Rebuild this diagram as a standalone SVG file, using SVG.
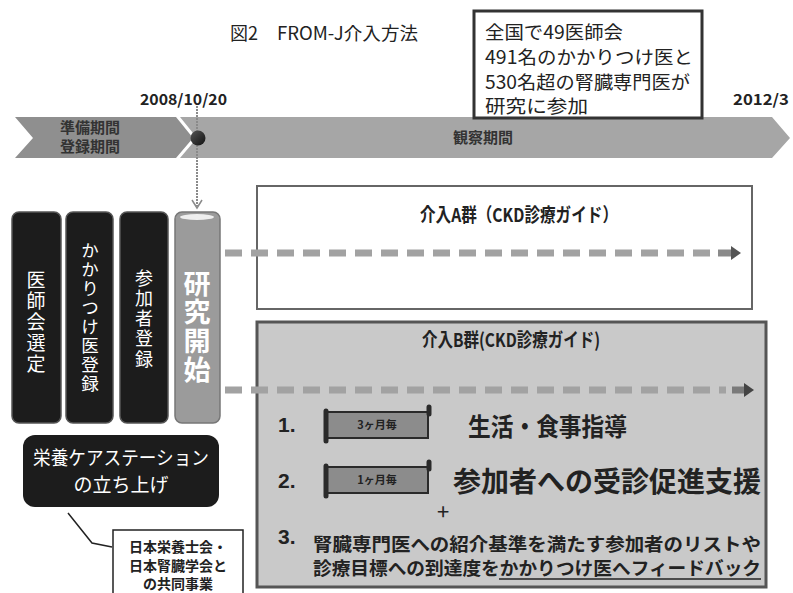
<svg xmlns="http://www.w3.org/2000/svg" width="793" height="593" viewBox="0 0 793 593">
<defs>
<style>
.jp{font-family:"Noto Sans CJK JP","Noto Sans",sans-serif;}
.b{font-weight:bold;}
.dk{fill:#222;}
.wt{fill:#fff;}
.vbox{fill:#1c1c1c;stroke:#555;stroke-width:1.5;}
.vt{font-family:"Noto Sans CJK JP",sans-serif;fill:#fff;writing-mode:vertical-rl;}
.dash{stroke:#a2a2a2;stroke-width:7;stroke-dasharray:17 9;fill:none;}
.tab{fill:#8c8c8c;stroke:#2a2a2a;stroke-width:2;}
.num{font-family:"Liberation Sans",Arial,sans-serif;font-weight:bold;font-size:21px;fill:#222;}
</style>
<linearGradient id="dotg" x1="0" y1="0" x2="1" y2="1">
<stop offset="0" stop-color="#555"/><stop offset="1" stop-color="#111"/>
</linearGradient>
</defs>
<rect width="793" height="593" fill="#fff"/>

<g id="title">
<text class="jp dk" x="230" y="40" font-size="18">図2</text>
<text class="jp dk" x="277" y="40" font-size="18" textLength="141" lengthAdjust="spacingAndGlyphs">FROM-J介入方法</text>
</g>

<g id="timeline">
<polygon points="15,117 176,117 193,138 176,158 15,158 33,138" fill="#8f8f8f"/>
<polygon points="180,117 772,117 790,138 772,158 180,158 197,138" fill="#a6a6a6"/>
<text class="jp b" x="60" y="133" font-size="15" fill="#333">準備期間</text>
<text class="jp b" x="60" y="152" font-size="15" fill="#333">登録期間</text>
<text class="jp b" x="453" y="143" font-size="15" fill="#333">観察期間</text>
<text class="jp b dk" x="140" y="105" font-size="15" textLength="87" lengthAdjust="spacingAndGlyphs">2008/10/20</text>
<text class="jp b dk" x="733" y="105" font-size="15" textLength="56" lengthAdjust="spacingAndGlyphs">2012/3</text>
</g>

<g id="info">
<rect x="474" y="11" width="228" height="107" fill="#fff" stroke="#333" stroke-width="3"/>
<text class="jp dk" x="485" y="39" font-size="18.5" textLength="138" lengthAdjust="spacingAndGlyphs">全国で49医師会</text>
<text class="jp dk" x="485" y="64" font-size="18.5" textLength="208" lengthAdjust="spacingAndGlyphs">491名のかかりつけ医と</text>
<text class="jp dk" x="485" y="88.5" font-size="18.5" textLength="205" lengthAdjust="spacingAndGlyphs">530名超の腎臓専門医が</text>
<text class="jp dk" x="485" y="112.5" font-size="18.5" textLength="103" lengthAdjust="spacingAndGlyphs">研究に参加</text>
</g>

<g id="box-ishikai">
<rect class="vbox" x="12" y="212" width="49" height="211" rx="7"/>
<text class="vt" x="36" y="270" font-size="19" letter-spacing="2">医師会選定</text>
</g>
<g id="box-kakaritsuke">
<rect class="vbox" x="66" y="212" width="47" height="211" rx="7"/>
<text class="vt" x="90" y="242" font-size="17.5" letter-spacing="1.5">かかりつけ医登録</text>
</g>
<g id="box-sankasha">
<rect class="vbox" x="120" y="212" width="48" height="211" rx="7"/>
<text class="vt" x="144" y="269" font-size="18" letter-spacing="2.2">参加者登録</text>
</g>
<g id="box-kaishi">
<rect x="175" y="212" width="45" height="211" rx="7" fill="#9b9b9b" stroke="#777" stroke-width="1.5"/>
<ellipse cx="197" cy="217" rx="17" ry="3" fill="#eee"/>
<text class="vt b" x="197" y="270" font-size="27" letter-spacing="1.7">研究開始</text>
</g>

<g id="box-eiyou">
<rect x="23" y="435" width="196" height="72" rx="12" fill="#1c1c1c"/>
<text class="jp wt" x="121" y="465" font-size="19" text-anchor="middle" textLength="176" lengthAdjust="spacingAndGlyphs">栄養ケアステーション</text>
<text class="jp wt" x="121" y="492" font-size="19" text-anchor="middle">の立ち上げ</text>
</g>

<g id="box-kyoudou">
<rect x="113" y="530" width="130" height="70" fill="#fff" stroke="#222" stroke-width="1.5"/>
<text class="jp b dk" x="178" y="552" font-size="14" text-anchor="middle">日本栄養士会・</text>
<text class="jp b dk" x="178" y="571" font-size="14" text-anchor="middle">日本腎臓学会と</text>
<text class="jp b dk" x="178" y="589" font-size="14" text-anchor="middle">の共同事業</text>
</g>

<g id="group-a">
<rect x="257" y="186" width="495" height="123" fill="#fff" stroke="#666" stroke-width="2"/>
<text class="jp b dk" x="519" y="222" font-size="19" text-anchor="middle" textLength="198" lengthAdjust="spacingAndGlyphs">介入A群（CKD診療ガイド）</text>
</g>

<g id="group-b">
<rect x="257" y="322" width="509" height="265" fill="#c9c9c9" stroke="#555" stroke-width="3"/>
<text class="jp b dk" x="511" y="347" font-size="19" text-anchor="middle" textLength="178" lengthAdjust="spacingAndGlyphs">介入B群(CKD診療ガイド)</text>
<text class="num" x="278" y="432">1.</text>
<g id="tab1">
<rect class="tab" x="326" y="412" width="102" height="26"/>
<line x1="326" y1="411" x2="326" y2="441" stroke="#2a2a2a" stroke-width="5" stroke-linecap="round"/>
<line x1="429" y1="407" x2="429" y2="414" stroke="#2a2a2a" stroke-width="5" stroke-linecap="round"/>
<text class="jp b" x="377" y="429" font-size="11" fill="#222" text-anchor="middle">3ヶ月毎</text>
</g>
<text class="jp b dk" x="468" y="436" font-size="25" textLength="159" lengthAdjust="spacingAndGlyphs">生活・食事指導</text>
<text class="num" x="278" y="488">2.</text>
<g id="tab2">
<rect class="tab" x="326" y="467" width="102" height="26"/>
<line x1="326" y1="466" x2="326" y2="496" stroke="#2a2a2a" stroke-width="5" stroke-linecap="round"/>
<line x1="429" y1="462" x2="429" y2="469" stroke="#2a2a2a" stroke-width="5" stroke-linecap="round"/>
<text class="jp b" x="377" y="484" font-size="11" fill="#222" text-anchor="middle">1ヶ月毎</text>
</g>
<text class="jp b dk" x="453" y="492" font-size="28" textLength="308" lengthAdjust="spacingAndGlyphs">参加者への受診促進支援</text>
<text class="jp dk" x="443" y="520" font-size="22" text-anchor="middle">+</text>
<text class="num" x="278" y="544">3.</text>
<text class="jp b dk" x="313" y="551" font-size="18.5" textLength="448" lengthAdjust="spacingAndGlyphs">腎臓専門医への紹介基準を満たす参加者のリストや</text>
<text class="jp b dk" x="313" y="575" font-size="18.5" textLength="448" lengthAdjust="spacingAndGlyphs">診療目標への到達度をかかりつけ医へフィードバック</text>
<line x1="499" y1="579" x2="761" y2="579" stroke="#222" stroke-width="1.5"/>
</g>

<g id="connectors">
<line x1="197" y1="106" x2="197" y2="206" stroke="#8a8a8a" stroke-width="2" stroke-dasharray="2 1"/>
<polyline points="192,200 197,208 202,200" fill="none" stroke="#8a8a8a" stroke-width="1.5"/>
<circle cx="198" cy="138" r="7.5" fill="url(#dotg)"/>
<line class="dash" x1="225" y1="253" x2="712" y2="253"/>
<line x1="718" y1="253" x2="732" y2="253" stroke="#8a8a8a" stroke-width="7"/>
<polygon points="731,246 741,253 731,260" fill="#555"/>
<line class="dash" x1="225" y1="390" x2="726" y2="390"/>
<line x1="732" y1="390" x2="745" y2="390" stroke="#7a7a7a" stroke-width="7"/>
<polygon points="744,383 754,390 744,397" fill="#444"/>
<polyline points="68,513 92,543 112,547" fill="none" stroke="#222" stroke-width="1.5"/>
</g>
</svg>
